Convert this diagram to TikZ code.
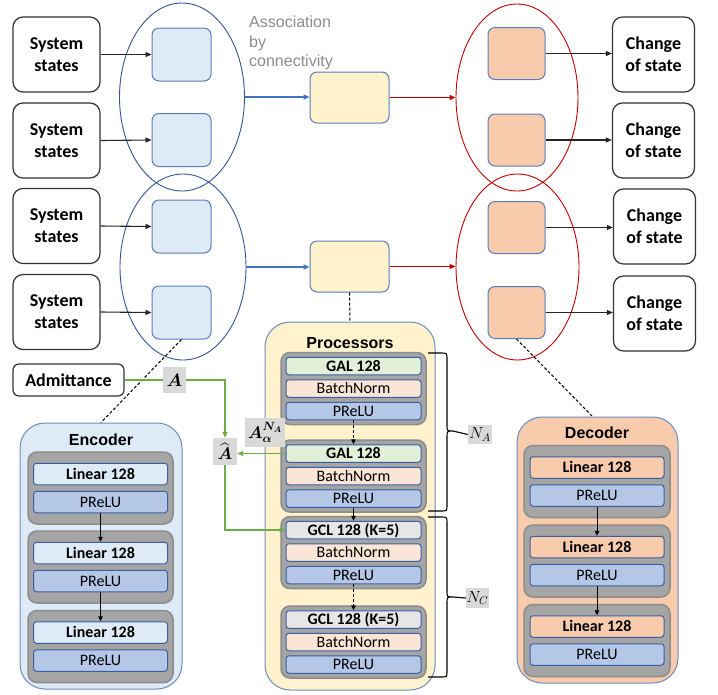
\RequirePackage{fix-cm}
\documentclass[tikz,border=0pt]{standalone}
\usepackage{fontspec}
\usepackage{amsmath,amssymb}
\setmainfont{Carlito}
\newfontfamily\arialf{Liberation Sans}
\usetikzlibrary{arrows.meta,shapes.geometric}
\definecolor{ellblue}{HTML}{2F5597}
\definecolor{ellred}{HTML}{C00000}
\definecolor{arrblue}{HTML}{4472C4}
\definecolor{boxedge}{HTML}{5A7DB5}
\definecolor{encfill}{HTML}{DEEBF7}
\definecolor{decfill}{HTML}{F8CBAD}
\definecolor{yelfill}{HTML}{FFF2CC}
\definecolor{gbfill}{HTML}{A5A5A5}
\definecolor{gbdraw}{HTML}{8C8C8C}
\definecolor{galfill}{HTML}{E2F0D9}
\definecolor{bnfill}{HTML}{FBE5D6}
\definecolor{prfill}{HTML}{B4C7E7}
\definecolor{gclfill}{HTML}{E7E6E6}
\definecolor{layedge}{HTML}{3A5FA0}
\definecolor{labgray}{HTML}{D9D9D9}
\definecolor{grn}{HTML}{70AD47}
\definecolor{bigedge}{HTML}{6C8EBF}
\begin{document}
\begin{tikzpicture}[x=1pt,y=-1pt,
  sysbox/.style={draw=black!80, line width=1.2pt, rounded corners=10pt, fill=white, minimum width=87pt, minimum height=75pt, align=center, inner sep=0pt, font=\fontsize{18}{22}\selectfont\bfseries},
  chbox/.style={sysbox, minimum width=82pt},
  smallbox/.style={draw=boxedge, line width=1pt, rounded corners=7pt, minimum width=59pt, minimum height=53pt, inner sep=0pt},
  ell/.style={ellipse, draw, line width=0.9pt, inner sep=0pt},
  bigbox/.style={draw=bigedge, line width=1pt, rounded corners=25pt, inner sep=0pt},
  title/.style={font=\arialf\fontsize{16}{16}\selectfont\bfseries, inner sep=0pt},
  gblock/.style={fill=gbfill, draw=gbdraw, line width=1.5pt, rounded corners=9pt, minimum width=145pt, minimum height=72pt, inner sep=0pt},
  layer/.style={draw=layedge, line width=1pt, rounded corners=3pt, minimum width=135pt, minimum height=17.5pt, inner sep=0pt, text height=10.3pt, text depth=0pt, font=\fontsize{16}{16}\selectfont},
  elayer/.style={layer, minimum width=134pt, minimum height=21.5pt},
  mlab/.style={fill=labgray, inner sep=0pt, font=\fontsize{18}{18}\selectfont},
  conn/.style={line width=1.1pt, -{Triangle[length=6pt,width=5pt]}},
  thinarr/.style={line width=0.9pt, -{Triangle[length=5pt,width=4.5pt]}},
  dashln/.style={line width=1pt, dash pattern=on 3pt off 2pt},
  gconn/.style={grn, line width=1.3pt},
  brc/.style={line width=1.1pt, black}
]
\useasboundingbox (0,0) rectangle (718,694);

% ellipses
\node[ell, draw=ellblue, minimum width=125pt, minimum height=188pt] (E1) at (182,97) {};
\node[ell, draw=ellblue, minimum width=126pt, minimum height=186pt] (E2) at (183,267) {};
\node[ell, draw=ellred, minimum width=122pt, minimum height=187pt] (R1) at (517,97.5) {};
\node[ell, draw=ellred, minimum width=123pt, minimum height=186pt] (R2) at (517.5,267) {};

% system state boxes
\node[sysbox] (S1) at (56.5,54.5) {System\\states};
\node[sysbox] (S2) at (56.5,140.5) {System\\states};
\node[sysbox] (S3) at (56.5,226) {System\\states};
\node[sysbox] (S4) at (56.5,312) {System\\states};
\node[chbox] (C1) at (653.5,54.5) {Change\\of state};
\node[chbox] (C2) at (653.5,140.5) {Change\\of state};
\node[chbox] (C3) at (654.5,226.5) {Change\\of state};
\node[chbox] (C4) at (654.5,313.5) {Change\\of state};

% small boxes
\node[smallbox, fill=encfill] (B1) at (181.5,54.5) {};
\node[smallbox, fill=encfill] (B2) at (181.5,140) {};
\node[smallbox, fill=encfill] (B3) at (181.5,226.5) {};
\node[smallbox, fill=encfill] (B4) at (181.5,312.5) {};
\node[smallbox, fill=decfill, minimum width=57pt, minimum height=52pt] (O1) at (516.5,53.5) {};
\node[smallbox, fill=decfill, minimum width=57pt, minimum height=52pt] (O2) at (516.5,140) {};
\node[smallbox, fill=decfill, minimum width=57pt, minimum height=52pt] (O3) at (516.5,227.5) {};
\node[smallbox, fill=decfill, minimum width=57pt, minimum height=52pt] (O4) at (516.5,312.5) {};
\node[smallbox, fill=yelfill, minimum width=79pt, minimum height=51pt] (Y1) at (349.5,97.5) {};
\node[smallbox, fill=yelfill, minimum width=79pt, minimum height=51pt] (Y2) at (349.5,266.5) {};

\node[anchor=north west, inner sep=0pt, align=left, text=black!45, font=\arialf\fontsize{16}{19.5}\selectfont] (assoc) at (249,16) {Association\\by\\connectivity};

% top connectors
\draw[conn, black!85] (S1.east) -- (B1.west);
\draw[conn, black!85] (S2.east) -- (B2.west);
\draw[conn, black!85] (S3.east) -- (B3.west);
\draw[conn, black!85] (S4.east) -- (B4.west);
\draw[conn, black!85] (O1.east) -- (O1.east -| C1.west);
\draw[conn, black!85] (O2.east) -- (O2.east -| C2.west);
\draw[conn, black!85] (O3.east) -- (O3.east -| C3.west);
\draw[conn, black!85] (O4.east) -- (O4.east -| C4.west);
\draw[conn, arrblue] (E1.east) -- (E1.east -| Y1.west);
\draw[conn, arrblue] (E2.east) -- (E2.east -| Y2.west);
\draw[conn, ellred] (Y1.east) -- (Y1.east -| R1.west);
\draw[conn, ellred] (Y2.east) -- (Y2.east -| R2.west);

% big boxes
\node[bigbox, fill=encfill, minimum width=162pt, minimum height=266pt] (Enc) at (101,556) {};
\node[bigbox, fill=yelfill, minimum width=170pt, minimum height=368pt] (Proc) at (350,506) {};
\node[bigbox, fill=decfill, minimum width=161pt, minimum height=266pt] (Dec) at (597.5,550) {};
\node[title] (encT) at (101,439.5) {Encoder};
\node[title] (procT) at (350,343.5) {Processors};
\node[title] (decT) at (597,432.5) {Decoder};

\draw[dashln] (Y2.south) -- (Proc.north);
\draw[dashln] (B4.south) -- (Enc.north);
\draw[dashln] (O4.south) -- ([xshift=-5pt]Dec.north);

% processor blocks
\node[gblock] (pg1) at (353.5,388.5) {};
\node[layer, fill=galfill, font=\fontsize{16}{16}\selectfont\bfseries] (gal1) at (353.5,366) {GAL 128};
\node[layer, fill=bnfill] (bn1) at (353.5,388.5) {BatchNorm};
\node[layer, fill=prfill] (pr1) at (353.5,411) {PReLU};
\node[gblock] (pg2) at (353.5,476) {};
\node[layer, fill=galfill, font=\fontsize{16}{16}\selectfont\bfseries] (gal2) at (353.5,453.5) {GAL 128};
\node[layer, fill=bnfill] (bn2) at (353.5,476) {BatchNorm};
\node[layer, fill=prfill] (pr2) at (353.5,498.5) {PReLU};
\node[gblock] (pg3) at (353.5,552.5) {};
\node[layer, fill=gclfill, font=\fontsize{16}{16}\selectfont\bfseries] (gcl1) at (353.5,530) {GCL 128 (K=5)};
\node[layer, fill=bnfill] (bn3) at (353.5,552.5) {BatchNorm};
\node[layer, fill=prfill] (pr3) at (353.5,575) {PReLU};
\node[gblock] (pg4) at (353.5,642) {};
\node[layer, fill=gclfill, font=\fontsize{16}{16}\selectfont\bfseries] (gcl2) at (353.5,619.5) {GCL 128 (K=5)};
\node[layer, fill=bnfill] (bn4) at (353.5,642) {BatchNorm};
\node[layer, fill=prfill] (pr4) at (353.5,664.5) {PReLU};
\draw[thinarr, dashln] (pr1.south) -- (gal2.north);
\draw[thinarr] (pr2.south) -- (gcl1.north);
\draw[thinarr, dashln] (pr3.south) -- (gcl2.north);

% encoder blocks
\node[gblock] (eg1) at (100.5,488) {};
\node[elayer, fill=encfill, font=\fontsize{16}{16}\selectfont\bfseries] (el1) at (100.5,474) {Linear 128};
\node[elayer, fill=prfill] (ep1) at (100.5,502) {PReLU};
\node[gblock] (eg2) at (100.5,567) {};
\node[elayer, fill=encfill, font=\fontsize{16}{16}\selectfont\bfseries] (el2) at (100.5,553) {Linear 128};
\node[elayer, fill=prfill] (ep2) at (100.5,581) {PReLU};
\node[gblock] (eg3) at (100.5,646.5) {};
\node[elayer, fill=encfill, font=\fontsize{16}{16}\selectfont\bfseries] (el3) at (100.5,632.5) {Linear 128};
\node[elayer, fill=prfill] (ep3) at (100.5,660.5) {PReLU};
\draw[thinarr] (ep1.south) -- (el2.north);
\draw[thinarr] (ep2.south) -- (el3.north);

% decoder blocks
\node[gblock, minimum width=146pt] (dg1) at (597,481.5) {};
\node[elayer, fill=decfill, font=\fontsize{16}{16}\selectfont\bfseries] (dl1) at (597,467.5) {Linear 128};
\node[elayer, fill=prfill] (dp1) at (597,495.5) {PReLU};
\node[gblock, minimum width=146pt] (dg2) at (597,561) {};
\node[elayer, fill=decfill, font=\fontsize{16}{16}\selectfont\bfseries] (dl2) at (597,547) {Linear 128};
\node[elayer, fill=prfill] (dp2) at (597,575) {PReLU};
\node[gblock, minimum width=146pt] (dg3) at (597,640.5) {};
\node[elayer, fill=decfill, font=\fontsize{16}{16}\selectfont\bfseries] (dl3) at (597,626.5) {Linear 128};
\node[elayer, fill=prfill] (dp3) at (597,654.5) {PReLU};
\draw[thinarr] (dp1.south) -- (dl2.north);
\draw[thinarr] (dp2.south) -- (dl3.north);

% admittance and labels
\node[draw=black!80, line width=1.2pt, rounded corners=6pt, minimum width=111pt, minimum height=32pt, inner sep=0pt, font=\fontsize{18}{18}\selectfont\bfseries] (adm) at (68.5,380) {Admittance};
\node[mlab, minimum width=23pt, minimum height=26pt] (Al) at (174.5,380) {$\boldsymbol{A}$};
\node[mlab, minimum width=24pt, minimum height=27pt, font=\fontsize{17}{17}\selectfont] (Ah) at (225,451.5) {$\widehat{\boldsymbol{A}}$};
\node[mlab, minimum width=40pt, minimum height=29pt, font=\fontsize{17}{17}\selectfont] (Aa) at (265,432.5) {$\boldsymbol{A}_{\boldsymbol{\alpha}}^{\boldsymbol{N_A}}$};
\node[mlab, minimum width=24pt, minimum height=19pt, font=\fontsize{16}{16}\selectfont] (NA) at (480,434.5) {$N_A$};
\node[mlab, minimum width=23pt, minimum height=20pt, font=\fontsize{16}{16}\selectfont] (NC) at (477.5,598) {$N_C$};

\draw[gconn] (adm.east) -- (Al.west);
\draw[gconn, -{Triangle[length=6pt,width=5pt]}] (Al.east) -| (Ah.north);
\draw[gconn, -{Triangle[length=6pt,width=5pt]}] (gal2.west) -- (gal2.west -| Ah.east);
\draw[gconn, -{Triangle[length=6pt,width=5pt]}] (Ah.south) |- (gcl1.west);

% braces
\coordinate (tipA) at (453,431);
\coordinate (tipC) at (453,597);
\draw[brc] (428,353) -- (441,353) .. controls (447,353) .. (447,359) -- (447,425) .. controls (447,431) .. (tipA) .. controls (447,431) .. (447,437) -- (447,505) .. controls (447,511) .. (441,511) -- (428,511);
\draw[brc] (tipA) -- (NA.west);
\draw[brc] (428,517) -- (441,517) .. controls (447,517) .. (447,523) -- (447,591) .. controls (447,597) .. (tipC) .. controls (447,597) .. (447,603) -- (447,671) .. controls (447,677) .. (441,677) -- (428,677);
\draw[brc] (tipC) -- (NC.west);
\end{tikzpicture}
\end{document}
